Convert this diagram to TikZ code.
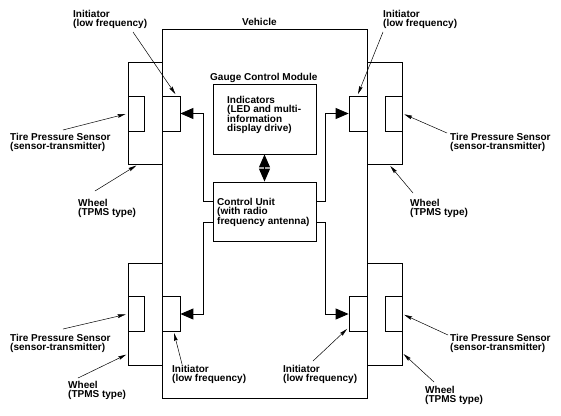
\documentclass[tikz,border=0pt]{standalone}
\usepackage{fontspec}
\setmainfont{Liberation Sans}
\usetikzlibrary{positioning,arrows.meta}

\begin{document}
\begin{tikzpicture}[x=1pt, y=-1pt,
  frame/.style={draw, line width=0.9pt, inner sep=0pt},
  part/.style={draw, line width=0.8pt, inner sep=0pt, minimum height=35pt},
  lbl/.style={anchor=north west, inner sep=0pt, align=left, font=\fontsize{10}{9.5}\selectfont\bfseries},
  callout/.style={-{Stealth[length=8pt,width=3.6pt,inset=1pt]}, line width=0.5pt},
  feed/.style={-{Triangle[length=13pt,width=11pt]}, line width=0.9pt},
  link/.style={{Triangle[length=13pt,width=11pt]}-{Triangle[length=13pt,width=11pt]}, line width=1.1pt}]
\useasboundingbox (0,0) rectangle (561,415);
% vehicle and the gauge control module
\node[frame, minimum width=205pt, minimum height=369pt] (vehicle) at (264.5,213.5) {};
\node[frame, minimum width=103pt, minimum height=70pt] (indicators) at (264.5,119) {};
\node[frame, minimum width=103pt, minimum height=59pt] (control) at (264.5,211.5) {};
% wheels, sensors, initiators
\node[frame, minimum width=34pt, minimum height=102pt] (wheelLT) at (145,113) {};
\node[part, minimum width=16pt] (sensorLT) at (136,113.5) {};
\node[part, minimum width=18pt] (initLT) at (171,113.5) {};
\node[frame, minimum width=35pt, minimum height=102pt] (wheelRT) at (384.5,113) {};
\node[part, minimum width=17pt] (sensorRT) at (393.5,113.5) {};
\node[part, minimum width=18pt] (initRT) at (358,113.5) {};
\node[frame, minimum width=34pt, minimum height=102pt] (wheelLB) at (145,314) {};
\node[part, minimum width=16pt] (sensorLB) at (136,314) {};
\node[part, minimum width=18pt] (initLB) at (171,314) {};
\node[frame, minimum width=35pt, minimum height=102pt] (wheelRB) at (384.5,314) {};
\node[part, minimum width=17pt] (sensorRB) at (393.5,314) {};
\node[part, minimum width=18pt] (initRB) at (358,314) {};
% texts
\node[lbl] (vehicleLbl) at (242,18) {Vehicle};
\node[lbl] (gcmLbl) at (210,73) {Gauge Control Module};
\node[lbl] (indicatorsLbl) at (227,96) {Indicators\\(LED and multi-\\information\\display drive)};
\node[lbl] (controlLbl) at (217,198) {Control Unit\\(with radio\\frequency antenna)};
\node[lbl] (initLblLT) at (73,10) {Initiator\\(low frequency)};
\node[lbl] (initLblRT) at (383,10) {Initiator\\(low frequency)};
\node[lbl] (initLblLB) at (172,365) {Initiator\\(low frequency)};
\node[lbl] (initLblRB) at (283,365) {Initiator\\(low frequency)};
\node[lbl] (tpsLblLT) at (10,133) {Tire Pressure Sensor\\(sensor-transmitter)};
\node[lbl] (tpsLblRT) at (450,133) {Tire Pressure Sensor\\(sensor-transmitter)};
\node[lbl] (tpsLblLB) at (10,334) {Tire Pressure Sensor\\(sensor-transmitter)};
\node[lbl] (tpsLblRB) at (450,334) {Tire Pressure Sensor\\(sensor-transmitter)};
\node[lbl] (wheelLblLT) at (78,199) {Wheel\\(TPMS type)};
\node[lbl] (wheelLblRT) at (410,199) {Wheel\\(TPMS type)};
\node[lbl] (wheelLblLB) at (68,381) {Wheel\\(TPMS type)};
\node[lbl] (wheelLblRB) at (425,386) {Wheel\\(TPMS type)};
% control unit to initiators
\draw[feed] ([yshift=10.5pt]control.west) -- ++(-9,0) |- (initLT.east);
\draw[feed] ([yshift=-10.5pt]control.west) -- ++(-9,0) |- (initLB.east);
\draw[feed] ([yshift=10.5pt]control.east) -- ++(9,0) |- (initRT.west);
\draw[feed] ([yshift=-10.5pt]control.east) -- ++(9,0) |- (initRB.west);
\draw[link] (indicators.south) -- (control.north);
% callouts
\coordinate (tInitLT) at (133,32);
\coordinate (tInitRT) at (383,32);
\coordinate (tInitLB) at (182,364);
\coordinate (tInitRB) at (313,361);
\coordinate (tTpsLT) at (63,130);
\coordinate (tTpsRT) at (447,133);
\coordinate (tTpsLB) at (63,329);
\coordinate (tTpsRB) at (448,335);
\coordinate (tWheelLT) at (95,191);
\coordinate (tWheelRT) at (413,193);
\coordinate (tWheelLB) at (78,378);
\coordinate (tWheelRB) at (434,382);
\draw[callout] (tInitLT) -- ([xshift=-5pt,yshift=1.5pt]initLT.north east);
\draw[callout] (tInitRT) -- ([yshift=1.5pt]initRT.north);
\draw[callout] (tInitLB) -- ([xshift=3pt,yshift=-1pt]initLB.south);
\draw[callout] (tInitRB) -- ([xshift=-1.5pt,yshift=3pt]initRB.south west);
\draw[callout, shorten >=2pt] (tTpsLT) -- (sensorLT.west);
\draw[callout, shorten >=2pt] (tTpsRT) -- (sensorRT.east);
\draw[callout, shorten >=2pt] (tTpsLB) -- (sensorLB.west);
\draw[callout, shorten >=2pt] (tTpsRB) -- (sensorRB.east);
\draw[callout, shorten >=2pt] (tWheelLT) -- ([xshift=-7pt]wheelLT.south);
\draw[callout, shorten >=2pt] (tWheelRT) -- ([xshift=4.5pt]wheelRT.south);
\draw[callout, shorten >=1.5pt] (tWheelLB) -- ([yshift=-40pt]wheelLB.west);
\draw[callout, shorten >=1.5pt] (tWheelRB) -- ([yshift=-39pt]wheelRB.east);
\end{tikzpicture}
\end{document}
